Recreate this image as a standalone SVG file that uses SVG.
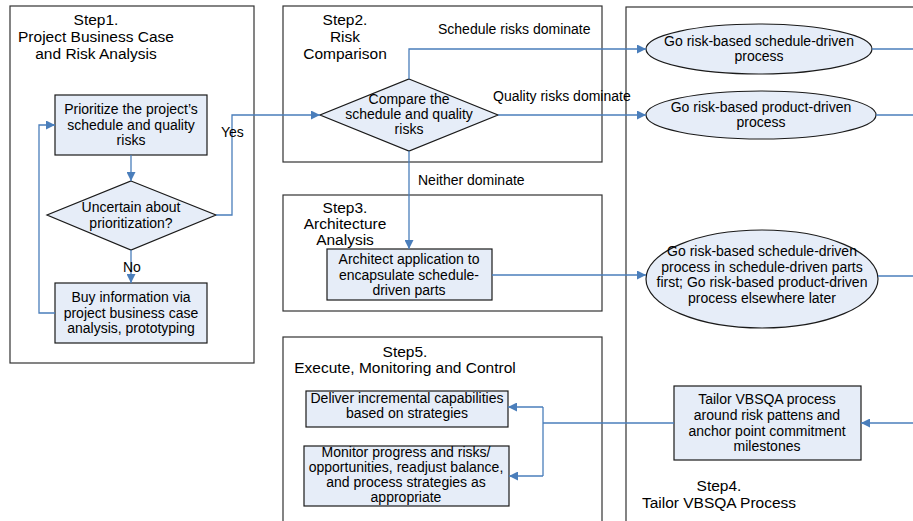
<svg xmlns="http://www.w3.org/2000/svg" width="913" height="521" viewBox="0 0 913 521">
<style>
.frame{fill:none;stroke:#333;stroke-width:1.2}
.node{fill:#E6EDF8;stroke:#1a1a1a;stroke-width:1.2}
.t{font-family:"Liberation Sans",Arial,sans-serif;font-size:14px;fill:#000;text-anchor:middle}
.h{font-family:"Liberation Sans",Arial,sans-serif;font-size:15.5px;fill:#000;text-anchor:middle}
.c{fill:none;stroke:#4A7EBB;stroke-width:1.3}
.lab{font-family:"Liberation Sans",Arial,sans-serif;font-size:14px;fill:#000}
</style>
<defs>
<marker id="ah" viewBox="0 0 10 10" refX="10" refY="5" markerWidth="9" markerHeight="9" markerUnits="userSpaceOnUse" orient="auto">
<path d="M0,0 L10,5 L0,10 z" fill="#4A7EBB"/>
</marker>
</defs>
<rect width="913" height="521" fill="#fff"/>

<g id="step1">
<rect class="frame" x="10" y="6" width="244" height="357"/>
<text class="h" x="96" y="25">Step1.</text>
<text class="h" x="96" y="42">Project Business Case</text>
<text class="h" x="96" y="59">and Risk Analysis</text>
</g>
<g id="step2">
<rect class="frame" x="283" y="6" width="319" height="156"/>
<text class="h" x="345" y="25">Step2.</text>
<text class="h" x="345" y="42">Risk</text>
<text class="h" x="345" y="59">Comparison</text>
</g>
<g id="step3">
<rect class="frame" x="283" y="195" width="319" height="116"/>
<text class="h" x="345" y="213">Step3.</text>
<text class="h" x="345" y="229">Architecture</text>
<text class="h" x="345" y="245">Analysis</text>
</g>
<g id="step5">
<rect class="frame" x="283" y="337" width="319" height="200"/>
<text class="h" x="405" y="357">Step5.</text>
<text class="h" x="405" y="373">Execute, Monitoring and Control</text>
</g>
<g id="step4">
<rect class="frame" x="626" y="7" width="300" height="530"/>
<text class="h" x="719" y="491">Step4.</text>
<text class="h" x="719" y="508">Tailor VBSQA Process</text>
</g>

<g id="prioritize">
<rect class="node" x="55" y="95" width="152" height="60"/>
<text class="t" x="131" y="114">Prioritize the project’s</text>
<text class="t" x="131" y="130">schedule and quality</text>
<text class="t" x="131" y="145">risks</text>
</g>
<g id="uncertain">
<polygon class="node" points="131,181 216,215 131,250 47,215"/>
<text class="t" x="131" y="212">Uncertain about</text>
<text class="t" x="131" y="228">prioritization?</text>
</g>
<g id="buyinfo">
<rect class="node" x="55" y="283" width="152" height="60"/>
<text class="t" x="131" y="302">Buy information via</text>
<text class="t" x="131" y="318">project business case</text>
<text class="t" x="131" y="333">analysis, prototyping</text>
</g>
<g id="compare">
<polygon class="node" points="409,79 498,115 409,151 320,115"/>
<text class="t" x="409" y="104">Compare the</text>
<text class="t" x="409" y="119">schedule and quality</text>
<text class="t" x="409" y="134">risks</text>
</g>
<g id="architect">
<rect class="node" x="327" y="249" width="165" height="51"/>
<text class="t" x="409" y="264">Architect application to</text>
<text class="t" x="409" y="280">encapsulate schedule-</text>
<text class="t" x="409" y="295">driven parts</text>
</g>
<g id="schedule-driven">
<ellipse class="node" cx="759" cy="49" rx="113" ry="25"/>
<text class="t" x="759" y="46">Go risk-based schedule-driven</text>
<text class="t" x="759" y="61">process</text>
</g>
<g id="product-driven">
<ellipse class="node" cx="761" cy="115" rx="115" ry="24"/>
<text class="t" x="761" y="112">Go risk-based product-driven</text>
<text class="t" x="761" y="127">process</text>
</g>
<g id="mixed">
<ellipse class="node" cx="762" cy="279" rx="116" ry="49"/>
<text class="t" x="762" y="256">Go risk-based schedule-driven</text>
<text class="t" x="762" y="272">process in schedule-driven parts</text>
<text class="t" x="762" y="287">first; Go risk-based product-driven</text>
<text class="t" x="762" y="303">process elsewhere later</text>
</g>
<g id="tailor">
<rect class="node" x="674" y="386" width="187" height="74"/>
<text class="t" x="767" y="404">Tailor VBSQA process</text>
<text class="t" x="767" y="420">around risk pattens and</text>
<text class="t" x="767" y="436">anchor point commitment</text>
<text class="t" x="767" y="451">milestones</text>
</g>
<g id="deliver">
<rect class="node" x="306" y="391" width="202" height="36"/>
<text class="t" x="407" y="403">Deliver incremental capabilities</text>
<text class="t" x="407" y="418">based on strategies</text>
</g>
<g id="monitor">
<rect class="node" x="304" y="446" width="205" height="60"/>
<text class="t" x="406" y="457">Monitor progress and risks/</text>
<text class="t" x="406" y="472">opportunities, readjust balance,</text>
<text class="t" x="406" y="487">and process strategies as</text>
<text class="t" x="406" y="502">appropriate</text>
</g>

<g id="connectors">
<path class="c" d="M131,155 V181" marker-end="url(#ah)"/>
<path class="c" d="M131,250 V283" marker-end="url(#ah)"/>
<path class="c" d="M55,313 H39 V125 H55" marker-end="url(#ah)"/>
<path class="c" d="M216,215 H232 V115 H320" marker-end="url(#ah)"/>
<path class="c" d="M409,79 V49 H646" marker-end="url(#ah)"/>
<path class="c" d="M498,115 H646" marker-end="url(#ah)"/>
<path class="c" d="M409,151 V249" marker-end="url(#ah)"/>
<path class="c" d="M492,275 H646" marker-end="url(#ah)"/>
<path class="c" d="M872,49 H913"/>
<path class="c" d="M876,115 H913"/>
<path class="c" d="M878,276 H913"/>
<path class="c" d="M913,423 H861" marker-end="url(#ah)"/>
<path class="c" d="M674,423 H543"/>
<path class="c" d="M543,407 V476"/>
<path class="c" d="M543,407 H508" marker-end="url(#ah)"/>
<path class="c" d="M543,476 H509" marker-end="url(#ah)"/>
<text class="lab" x="221" y="137">Yes</text>
<text class="lab" x="123" y="272">No</text>
<text class="lab" x="438" y="34">Schedule risks dominate</text>
<text class="lab" x="493" y="101">Quality risks dominate</text>
<text class="lab" x="418" y="185">Neither dominate</text>
</g>
</svg>
